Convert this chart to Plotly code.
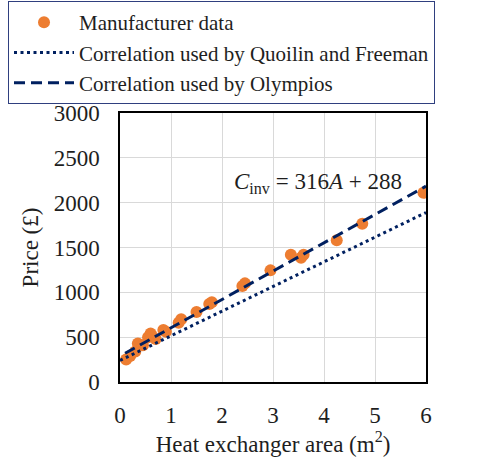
import plotly.graph_objects as go

# Manufacturer data (heat exchanger area m^2, price GBP)
area = [0.12, 0.2, 0.3, 0.35, 0.45, 0.55, 0.6, 0.62, 0.7, 0.85, 0.9, 1.15, 1.2,
        1.5, 1.75, 1.8, 2.4, 2.45, 2.95, 3.35, 3.55, 3.6, 4.25, 4.75, 5.95]
price = [250, 290, 340, 430, 410, 500, 540, 520, 480, 580, 560, 660, 700,
         780, 870, 890, 1070, 1100, 1245, 1420, 1385, 1420, 1580, 1765, 2110]

# Correlation lines (endpoints)
quoilin_x = [0, 6]
quoilin_y = [240, 1890]
olympios_x = [0.1, 6]
olympios_y = [320, 2184]

x_ticks = [0, 1, 2, 3, 4, 5, 6]
y_ticks = [0, 500, 1000, 1500, 2000, 2500, 3000]

FONT = "Liberation Serif, Times New Roman, serif"
ORANGE = "#ED7D31"
NAVY = "#002060"
TXT = "#1E1E1E"

fig = go.Figure()
fig.add_trace(go.Scatter(x=area, y=price, mode="markers", name="Manufacturer data",
                         marker=dict(color=ORANGE, size=12, line=dict(width=0))))
fig.add_trace(go.Scatter(x=quoilin_x, y=quoilin_y, mode="lines",
                         name="Correlation used by Quoilin and Freeman",
                         line=dict(color=NAVY, width=3, dash="3px,3.5px")))
fig.add_trace(go.Scatter(x=olympios_x, y=olympios_y, mode="lines",
                         name="Correlation used by Olympios",
                         line=dict(color=NAVY, width=3, dash="11px,6px")))

fig.add_annotation(x=5.57, y=2215, xref="x", yref="y", xanchor="right", yanchor="middle",
                   text="<i>C</i><sub>inv</sub> = 316<i>A</i> + 288", showarrow=False,
                   font=dict(family=FONT, size=23, color=TXT))

axis_common = dict(showgrid=True, gridcolor="#D9D9D9", gridwidth=1, zeroline=False,
                   showline=True, linecolor="black", linewidth=1.5, mirror=True,
                   ticks="", tickfont=dict(family=FONT, size=23, color=TXT))

fig.update_xaxes(range=[0, 6], tickvals=x_ticks, ticklabelstandoff=12,
                 title=dict(text="Heat exchanger area (m<sup>2</sup>)", standoff=8,
                            font=dict(family=FONT, size=23, color=TXT)),
                 **axis_common)
fig.update_yaxes(range=[0, 3000], tickvals=y_ticks, ticklabelstandoff=14,
                 title=dict(text="Price (£)", standoff=9,
                            font=dict(family=FONT, size=23, color=TXT)),
                 **axis_common)

fig.update_layout(
    width=486, height=458,
    margin=dict(l=120, r=60, t=113, b=76, autoexpand=False),
    plot_bgcolor="white", paper_bgcolor="white",
    showlegend=True,
    legend=dict(x=-0.366, y=1.416, xanchor="left", yanchor="top",
                bordercolor="#2F3F7F", borderwidth=1, bgcolor="white",
                font=dict(family=FONT, size=21, color=TXT),
                itemwidth=60, tracegroupgap=0),
)

fig.write_html("out.html")
